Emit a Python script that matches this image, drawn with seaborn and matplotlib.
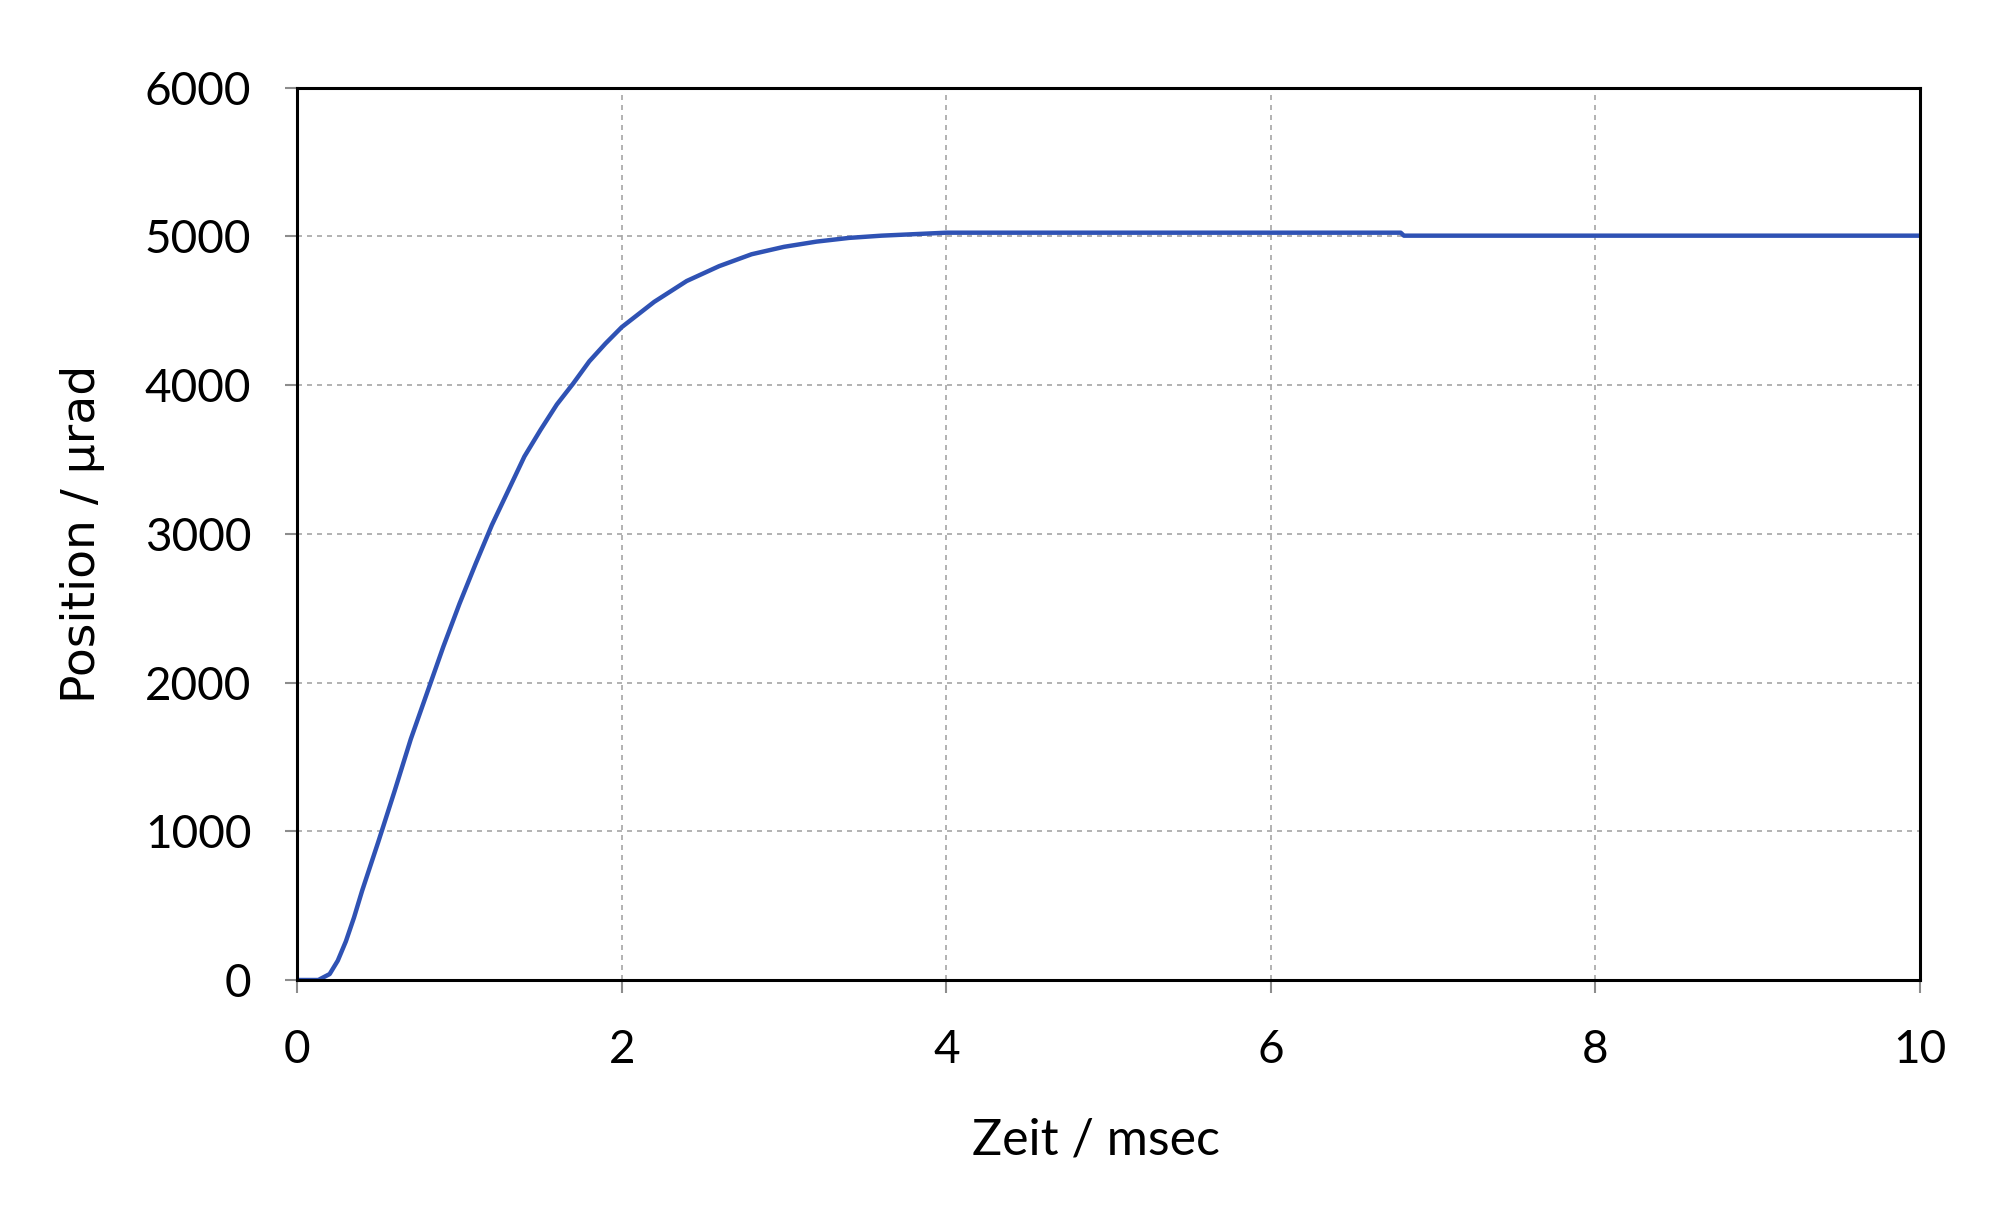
import pandas as pd
import seaborn as sns
import matplotlib.pyplot as plt

# step response
zeit = [0, 0.13, 0.2, 0.25, 0.3, 0.35, 0.4, 0.5, 0.6, 0.7, 0.8, 0.9, 1.0, 1.1, 1.2,
        1.3, 1.4, 1.5, 1.6, 1.7, 1.8, 1.9, 2.0, 2.2, 2.4, 2.6, 2.8, 3.0, 3.2, 3.4,
        3.6, 3.8, 4.0, 6.8, 6.82, 10.0]
position = [0, 0, 40, 130, 260, 420, 600, 930, 1270, 1620, 1930, 2240, 2530, 2800, 3060,
            3290, 3520, 3700, 3870, 4010, 4160, 4280, 4390, 4560, 4700, 4800, 4880, 4930, 4965, 4990,
            5005, 5015, 5025, 5025, 5005, 5005]
x_ticks = [0, 2, 4, 6, 8, 10]
y_ticks = [0, 1000, 2000, 3000, 4000, 5000, 6000]

df = pd.DataFrame({'zeit': zeit, 'position': position})

sns.set_style('white')
plt.rcParams['font.family'] = ['Lato', 'DejaVu Sans']
plt.rcParams['text.color'] = 'black'
plt.rcParams['axes.labelcolor'] = 'black'
plt.rcParams['xtick.labelcolor'] = 'black'
plt.rcParams['ytick.labelcolor'] = 'black'

fig = plt.figure(figsize=(20, 12.18), dpi=100)
ax = fig.add_axes([0.1486, 0.1954, 0.8114, 0.7326])

sns.lineplot(data=df, x='zeit', y='position', color='#2F52B4', linewidth=3.2, ax=ax)

ax.set_xlim(0, 10)
ax.set_ylim(0, 6000)
ax.set_xticks(x_ticks)
ax.set_yticks(y_ticks)
ax.grid(True, color='#A6A6A6', linestyle=(0, (3, 3)), linewidth=1.2)

for s in ax.spines.values():
    s.set_color('black')
    s.set_linewidth(2.2)

ax.tick_params(axis='both', which='major', length=9, width=1.5, color='#8C8C8C',
               labelsize=33, labelcolor='black', direction='out', left=True, bottom=True)
ax.tick_params(axis='x', pad=26)
ax.tick_params(axis='y', pad=24)

ax.set_xlabel('Zeit / msec', fontsize=36, color='black')
ax.set_ylabel('Position / μrad', fontsize=34, fontfamily='DejaVu Sans', color='black')
ax.xaxis.label.set_verticalalignment('center')
ax.yaxis.label.set_verticalalignment('center')
ax.xaxis.set_label_coords(0.492, -0.18)
ax.yaxis.set_label_coords(-0.132, 0.5)

fig.savefig('out.png', dpi=100)
